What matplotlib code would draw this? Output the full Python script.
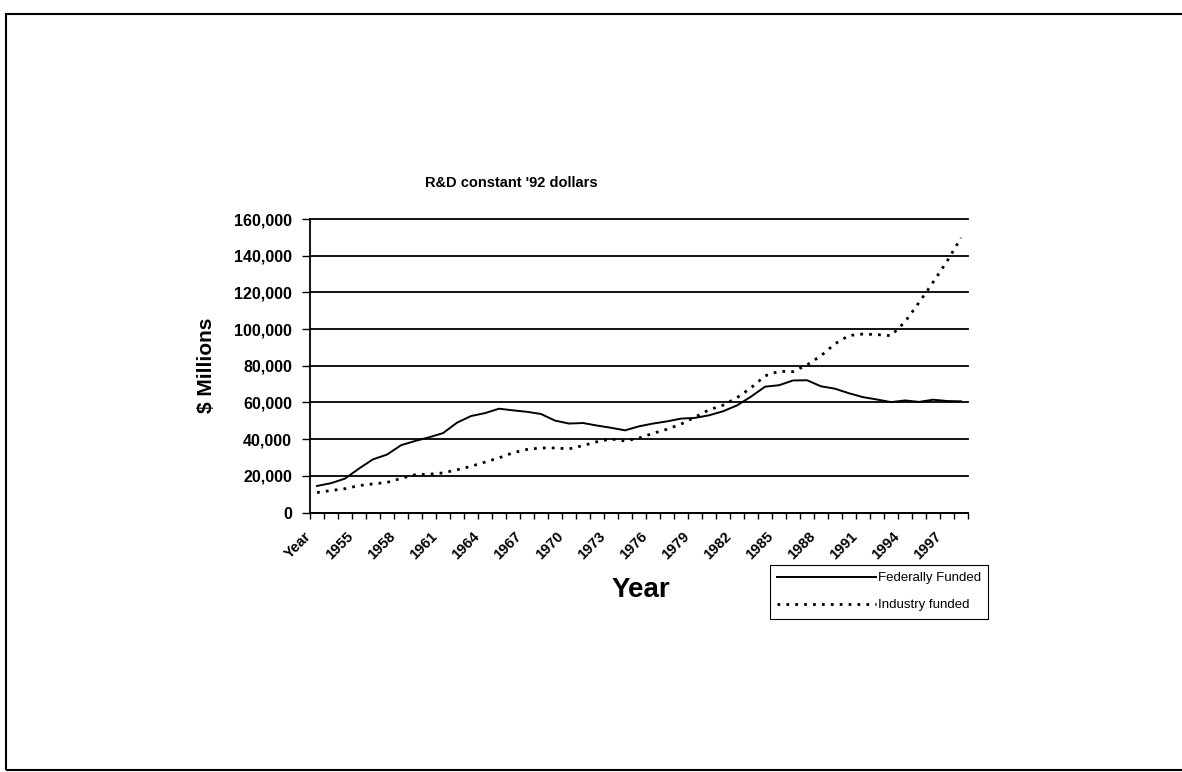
import numpy as np
import matplotlib.pyplot as plt
import matplotlib.transforms as mtransforms
from matplotlib.patches import Rectangle
from matplotlib.ticker import FuncFormatter

plt.rcParams['font.family'] = ['Liberation Sans', 'DejaVu Sans']

# category axis as in the source sheet: header cell "Year" ended up as first category
categories = ['Year'] + [str(y) for y in range(1953, 1999)]

federal = [14500, 16000, 18500, 24000, 29000, 31600, 36700, 39000, 41000, 43300,
           49000, 52600, 54200, 56600, 55700, 54900, 53700, 50100, 48500, 48800,
           47400, 46200, 44800, 47000, 48500, 49700, 51200, 51600, 53000, 55200,
           58400, 63200, 68600, 69400, 72000, 72100, 68800, 67500, 65000, 62900,
           61600, 60200, 61100, 60300, 61500, 60800, 60600]

industry = [10900, 12000, 13000, 14700, 15600, 16400, 18600, 20600, 20900, 21600,
            23300, 25200, 27500, 29800, 32600, 34400, 35200, 35200, 34700, 36500,
            38600, 40100, 39000, 40600, 43200, 45400, 48200, 52000, 56000, 58500,
            62600, 68000, 74500, 77000, 76800, 80500, 85500, 92000, 96500, 97300,
            97000, 96400, 104000, 114500, 125500, 137000, 149800]


def main():
    fig = plt.figure(figsize=(11.82, 7.72), dpi=100)
    ax = fig.add_axes([0.2623, 0.3361, 0.819 - 0.2623, 0.7163 - 0.3361])

    x = np.arange(len(categories))
    l1, = ax.plot(x, federal, color='black', lw=1.4, solid_joinstyle='round')
    l2, = ax.plot(x, industry, color='black', lw=2.0, linestyle=(0, (1, 2.2)))

    ax.set_xlim(-0.5, len(categories) - 0.5)
    ax.set_ylim(0, 160000)
    ax.set_yticks(np.arange(0, 160001, 20000))
    ax.yaxis.set_major_formatter(FuncFormatter(lambda v, p: f'{int(v):,}'))
    ax.yaxis.grid(True, color='black', lw=1.3)
    for g in ax.get_ygridlines():
        g.set_clip_on(False)
    ax.set_axisbelow(True)
    for s in ('top', 'right'):
        ax.spines[s].set_visible(False)
    ax.spines['left'].set_linewidth(1.3)
    ax.spines['bottom'].set_linewidth(1.3)
    ax.tick_params(axis='y', direction='out', length=6, width=1, labelsize=11.5, pad=7)
    for t in ax.get_yticklabels():
        t.set_fontweight('bold')

    # category labels every 3rd, tick marks between categories
    ax.set_xticks(x[::3])
    ax.set_xticklabels(categories[::3], rotation=45, ha='right', va='top',
                       rotation_mode='anchor', fontsize=10.5, fontweight='bold')
    ax.tick_params(axis='x', which='major', length=0, pad=12)
    shift = mtransforms.ScaledTranslation(-13 / 100, 0, fig.dpi_scale_trans)
    for t in ax.get_xticklabels():
        t.set_transform(t.get_transform() + shift)
    ax.set_xticks(np.arange(len(categories) + 1) - 0.5, minor=True)
    ax.tick_params(axis='x', which='minor', direction='out', length=4, width=1)

    fig.text(207 / 1182, 1 - 365 / 772, '$ Millions', fontsize=15, fontweight='bold',
             rotation=90, ha='center', va='center')
    fig.text(641 / 1182, 1 - 590 / 772, 'Year', fontsize=20, fontweight='bold',
             ha='center', va='center')
    fig.text(511 / 1182, 1 - 183 / 772, "R&D constant '92 dollars", fontsize=10.5,
             fontweight='bold', ha='center', va='center')

    leg = fig.legend([l1, l2], ['Federally Funded', 'Industry funded'],
                     loc='upper left', bbox_to_anchor=(770 / 1182, 1 - 565 / 772),
                     borderaxespad=0, fontsize=9.5,
                     handlelength=7.5, handletextpad=0.1, borderpad=0.55,
                     labelspacing=1.1, fancybox=False, framealpha=1, edgecolor='black')
    leg.get_frame().set_linewidth(0.8)

    # outer frame of the scanned page
    fig.patches.append(Rectangle((6 / 1182, 2 / 772), 1.2, 1 - 16 / 772,
                                 transform=fig.transFigure, fill=False,
                                 edgecolor='black', lw=1.5))

    fig.savefig('out.png', dpi=100)


if __name__ == "__main__":
    main()
